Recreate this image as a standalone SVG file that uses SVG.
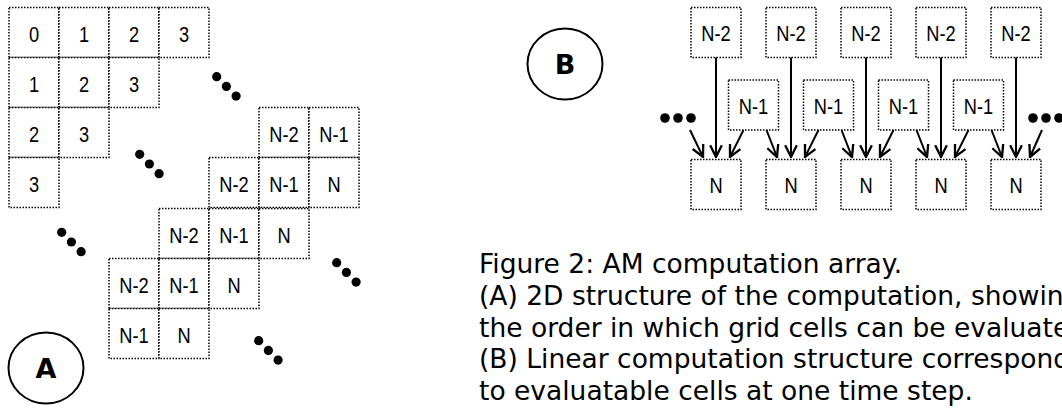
<svg xmlns="http://www.w3.org/2000/svg" width="1062" height="408" viewBox="0 0 1062 408">
  <style>
    .cell { fill: #fff; stroke: #000; stroke-width: 1.5; stroke-dasharray: 1.5 1.5; }
    .lbl { font-family: "Liberation Sans", Arial, sans-serif; font-size: 22px; fill: #000; text-anchor: middle; }
    .dot { fill: #000; }
    .tag { fill: none; stroke: #000; stroke-width: 2; }
    .tagtxt { font-family: "DejaVu Sans", Verdana, sans-serif; font-weight: bold; font-size: 27px; text-anchor: middle; fill: #000; }
    .edge { stroke: #000; stroke-width: 2; fill: none; marker-end: url(#vee); }
    .cap { font-family: "DejaVu Sans", Verdana, sans-serif; font-size: 26.5px; fill: #000; }
  </style>
  <defs>
    <marker id="vee" markerUnits="userSpaceOnUse" markerWidth="14" markerHeight="14" viewBox="-11 -6 12 12" refX="0" refY="0" orient="auto">
      <path d="M-10,-5 L0,0 L-10,5" fill="none" stroke="#000" stroke-width="2"/>
    </marker>
    <g id="ell">
      <circle class="dot" cx="0" cy="0" r="4.6"/>
      <circle class="dot" cx="9.7" cy="9.7" r="4.6"/>
      <circle class="dot" cx="19.4" cy="19.4" r="4.6"/>
    </g>
  </defs>

  <!-- (A) 2D grid of computation cells -->
  <g id="grid">
    <g id="g-r0c0" transform="translate(9,7.5)"><rect class="cell" width="50" height="50"/><text class="lbl" transform="translate(25,34) scale(0.83,1)">0</text></g>
    <g id="g-r0c1" transform="translate(59,7.5)"><rect class="cell" width="50" height="50"/><text class="lbl" transform="translate(25,34) scale(0.83,1)">1</text></g>
    <g id="g-r0c2" transform="translate(109,7.5)"><rect class="cell" width="50" height="50"/><text class="lbl" transform="translate(25,34) scale(0.83,1)">2</text></g>
    <g id="g-r0c3" transform="translate(159,7.5)"><rect class="cell" width="50" height="50"/><text class="lbl" transform="translate(25,34) scale(0.83,1)">3</text></g>

    <g id="g-r1c0" transform="translate(9,57.5)"><rect class="cell" width="50" height="50"/><text class="lbl" transform="translate(25,34) scale(0.83,1)">1</text></g>
    <g id="g-r1c1" transform="translate(59,57.5)"><rect class="cell" width="50" height="50"/><text class="lbl" transform="translate(25,34) scale(0.83,1)">2</text></g>
    <g id="g-r1c2" transform="translate(109,57.5)"><rect class="cell" width="50" height="50"/><text class="lbl" transform="translate(25,34) scale(0.83,1)">3</text></g>

    <g id="g-r2c0" transform="translate(9,107.5)"><rect class="cell" width="50" height="50"/><text class="lbl" transform="translate(25,34) scale(0.83,1)">2</text></g>
    <g id="g-r2c1" transform="translate(59,107.5)"><rect class="cell" width="50" height="50"/><text class="lbl" transform="translate(25,34) scale(0.83,1)">3</text></g>
    <g id="g-r2c5" transform="translate(259,107.5)"><rect class="cell" width="50" height="50"/><text class="lbl" transform="translate(25,34) scale(0.83,1)">N-2</text></g>
    <g id="g-r2c6" transform="translate(309,107.5)"><rect class="cell" width="50" height="50"/><text class="lbl" transform="translate(25,34) scale(0.83,1)">N-1</text></g>

    <g id="g-r3c0" transform="translate(9,157.5)"><rect class="cell" width="50" height="50"/><text class="lbl" transform="translate(25,34) scale(0.83,1)">3</text></g>
    <g id="g-r3c4" transform="translate(209,157.5)"><rect class="cell" width="50" height="50"/><text class="lbl" transform="translate(25,34) scale(0.83,1)">N-2</text></g>
    <g id="g-r3c5" transform="translate(259,157.5)"><rect class="cell" width="50" height="50"/><text class="lbl" transform="translate(25,34) scale(0.83,1)">N-1</text></g>
    <g id="g-r3c6" transform="translate(309,157.5)"><rect class="cell" width="50" height="50"/><text class="lbl" transform="translate(25,34) scale(0.83,1)">N</text></g>

    <g id="g-r4c3" transform="translate(159,208.5)"><rect class="cell" width="50" height="50"/><text class="lbl" transform="translate(25,34) scale(0.83,1)">N-2</text></g>
    <g id="g-r4c4" transform="translate(209,208.5)"><rect class="cell" width="50" height="50"/><text class="lbl" transform="translate(25,34) scale(0.83,1)">N-1</text></g>
    <g id="g-r4c5" transform="translate(259,208.5)"><rect class="cell" width="50" height="50"/><text class="lbl" transform="translate(25,34) scale(0.83,1)">N</text></g>

    <g id="g-r5c2" transform="translate(109,258.5)"><rect class="cell" width="50" height="50"/><text class="lbl" transform="translate(25,34) scale(0.83,1)">N-2</text></g>
    <g id="g-r5c3" transform="translate(159,258.5)"><rect class="cell" width="50" height="50"/><text class="lbl" transform="translate(25,34) scale(0.83,1)">N-1</text></g>
    <g id="g-r5c4" transform="translate(209,258.5)"><rect class="cell" width="50" height="50"/><text class="lbl" transform="translate(25,34) scale(0.83,1)">N</text></g>

    <g id="g-r6c2" transform="translate(109,308.5)"><rect class="cell" width="50" height="50"/><text class="lbl" transform="translate(25,34) scale(0.83,1)">N-1</text></g>
    <g id="g-r6c3" transform="translate(159,308.5)"><rect class="cell" width="50" height="50"/><text class="lbl" transform="translate(25,34) scale(0.83,1)">N</text></g>

    <!-- diagonal ellipses -->
    <use href="#ell" x="216.7" y="76.7"/>
    <use href="#ell" x="139.7" y="154.3"/>
    <use href="#ell" x="61.7" y="232.3"/>
    <use href="#ell" x="336.7" y="262.7"/>
    <use href="#ell" x="258.7" y="340.7"/>
  </g>

  <g id="tag-a">
    <ellipse class="tag" cx="46" cy="368" rx="37.5" ry="35.5"/>
    <text class="tagtxt" x="46" y="378">A</text>
  </g>
  <g id="tag-b">
    <ellipse class="tag" cx="565" cy="64" rx="37.5" ry="35.5"/>
    <text class="tagtxt" x="565" y="74">B</text>
  </g>

  <!-- (B) linear structure: N-2 row -->
  <g id="b-n2-0" transform="translate(691,7.5)"><rect class="cell" width="50" height="50"/><text class="lbl" transform="translate(25,33.5) scale(0.83,1)">N-2</text></g>
  <g id="b-n2-1" transform="translate(766,7.5)"><rect class="cell" width="50" height="50"/><text class="lbl" transform="translate(25,33.5) scale(0.83,1)">N-2</text></g>
  <g id="b-n2-2" transform="translate(841,7.5)"><rect class="cell" width="50" height="50"/><text class="lbl" transform="translate(25,33.5) scale(0.83,1)">N-2</text></g>
  <g id="b-n2-3" transform="translate(916,7.5)"><rect class="cell" width="50" height="50"/><text class="lbl" transform="translate(25,33.5) scale(0.83,1)">N-2</text></g>
  <g id="b-n2-4" transform="translate(991,7.5)"><rect class="cell" width="50" height="50"/><text class="lbl" transform="translate(25,33.5) scale(0.83,1)">N-2</text></g>

  <!-- N-1 row -->
  <g id="b-n1-0" transform="translate(728.5,80)"><rect class="cell" width="50" height="50"/><text class="lbl" transform="translate(25,33.5) scale(0.83,1)">N-1</text></g>
  <g id="b-n1-1" transform="translate(803.5,80)"><rect class="cell" width="50" height="50"/><text class="lbl" transform="translate(25,33.5) scale(0.83,1)">N-1</text></g>
  <g id="b-n1-2" transform="translate(878.5,80)"><rect class="cell" width="50" height="50"/><text class="lbl" transform="translate(25,33.5) scale(0.83,1)">N-1</text></g>
  <g id="b-n1-3" transform="translate(953.5,80)"><rect class="cell" width="50" height="50"/><text class="lbl" transform="translate(25,33.5) scale(0.83,1)">N-1</text></g>

  <!-- N row -->
  <g id="b-n-0" transform="translate(691,159.5)"><rect class="cell" width="50" height="50"/><text class="lbl" transform="translate(25,33.5) scale(0.83,1)">N</text></g>
  <g id="b-n-1" transform="translate(766,159.5)"><rect class="cell" width="50" height="50"/><text class="lbl" transform="translate(25,33.5) scale(0.83,1)">N</text></g>
  <g id="b-n-2" transform="translate(841,159.5)"><rect class="cell" width="50" height="50"/><text class="lbl" transform="translate(25,33.5) scale(0.83,1)">N</text></g>
  <g id="b-n-3" transform="translate(916,159.5)"><rect class="cell" width="50" height="50"/><text class="lbl" transform="translate(25,33.5) scale(0.83,1)">N</text></g>
  <g id="b-n-4" transform="translate(991,159.5)"><rect class="cell" width="50" height="50"/><text class="lbl" transform="translate(25,33.5) scale(0.83,1)">N</text></g>

  <g id="b-more">
    <circle class="dot" cx="665" cy="118" r="4.8"/>
    <circle class="dot" cx="678" cy="118" r="4.8"/>
    <circle class="dot" cx="691" cy="118" r="4.8"/>
    <circle class="dot" cx="1033" cy="118" r="4.8"/>
    <circle class="dot" cx="1046" cy="118" r="4.8"/>
    <circle class="dot" cx="1059" cy="118" r="4.8"/>
  </g>

  <g id="connectors">
    <!-- N box at 691 -->
    <line class="edge" x1="690" y1="130" x2="703" y2="157"/>
    <line class="edge" x1="716" y1="57.5" x2="716" y2="157"/>
    <line class="edge" x1="743.5" y1="130" x2="730" y2="157"/>
    <!-- N box at 766 -->
    <line class="edge" x1="766.5" y1="130" x2="777" y2="157"/>
    <line class="edge" x1="791" y1="57.5" x2="791" y2="157"/>
    <line class="edge" x1="818.5" y1="130" x2="805" y2="157"/>
    <!-- N box at 841 -->
    <line class="edge" x1="841.5" y1="130" x2="852" y2="157"/>
    <line class="edge" x1="866" y1="57.5" x2="866" y2="157"/>
    <line class="edge" x1="893.5" y1="130" x2="880" y2="157"/>
    <!-- N box at 916 -->
    <line class="edge" x1="916.5" y1="130" x2="927" y2="157"/>
    <line class="edge" x1="941" y1="57.5" x2="941" y2="157"/>
    <line class="edge" x1="968.5" y1="130" x2="955" y2="157"/>
    <!-- N box at 991 -->
    <line class="edge" x1="991.5" y1="130" x2="1002" y2="157"/>
    <line class="edge" x1="1016" y1="57.5" x2="1016" y2="157"/>
    <line class="edge" x1="1042" y1="130" x2="1030" y2="157"/>
  </g>

  <g id="caption">
    <text class="cap" x="479" y="273">Figure 2: AM computation array.</text>
    <text class="cap" x="479" y="305">(A) 2D structure of the computation, showing</text>
    <text class="cap" x="479" y="336.5">the order in which grid cells can be evaluated.</text>
    <text class="cap" x="479" y="368">(B) Linear computation structure corresponding</text>
    <text class="cap" x="479" y="400">to evaluatable cells at one time step.</text>
  </g>
</svg>
